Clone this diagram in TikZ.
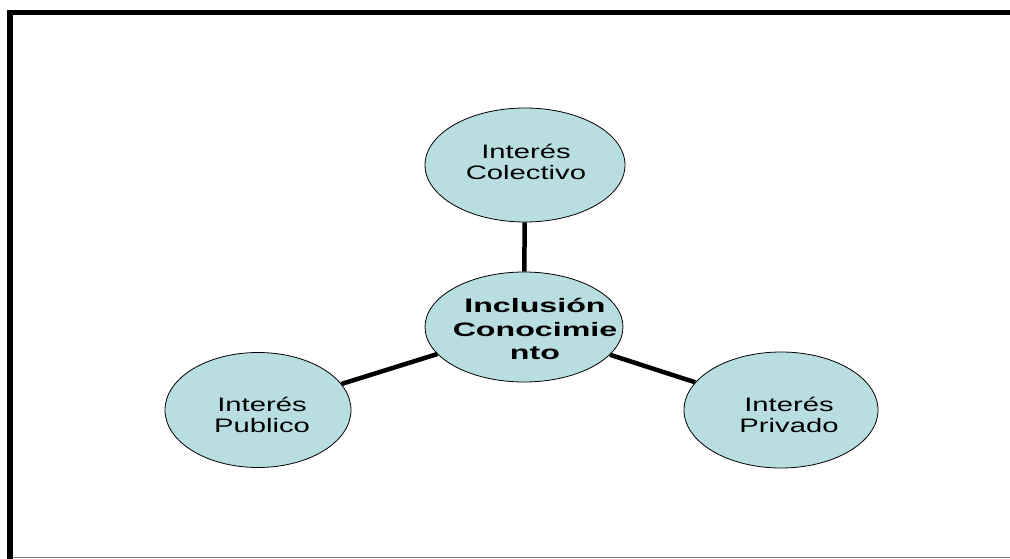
\documentclass[tikz,border=0pt]{standalone}
\usepackage{fontspec}
\setmainfont{Liberation Sans}
\newfontfamily\widefont{Liberation Sans}[FakeStretch=1.5]
\newfontfamily\wideboldfont{Liberation Sans}[FakeStretch=1.65]
\usetikzlibrary{shapes.geometric}
\definecolor{bubble}{RGB}{184,222,226}
\tikzset{
  bub/.style={ellipse, draw=black, line width=0.8pt, fill=bubble, inner sep=0pt},
  txt/.style={align=center, inner sep=0pt, font=\widefont\fontsize{19.5}{21.5}\selectfont},
  btxt/.style={align=center, inner sep=0pt, font=\wideboldfont\bfseries\fontsize{19.5}{23.5}\selectfont},
  link/.style={line width=4.5pt, draw=black}
}
\begin{document}
\begin{tikzpicture}[x=1pt,y=-1pt]
\useasboundingbox (0,0) rectangle (1010,559);
% frame
\fill[black] (7,10) rectangle (1010,15);
\fill[black] (7,10) rectangle (13,559);
\fill[gray] (13,556.5) rectangle (1010,558);
% nodes
\node[bub, minimum width=200pt, minimum height=114pt,
  label={[txt, shift={(1pt,3pt)}]center:{Interés\\Colectivo}}] (t) at (525,165) {};
\node[bub, minimum width=198pt, minimum height=110pt,
  label={[btxt, shift={(11pt,-2pt)}]center:{Inclusión\\Conocimie\\nto}}] (c) at (524,327) {};
\node[bub, minimum width=186pt, minimum height=115pt,
  label={[txt, shift={(4pt,-5pt)}]center:{Interés\\Publico}}] (l) at (258,410) {};
\node[bub, minimum width=194pt, minimum height=116pt,
  label={[txt, shift={(8pt,-5pt)}]center:{Interés\\Privado}}] (r) at (781,410) {};
% links
\draw[link] (c) -- (t);
\draw[link] (c) -- (l);
\draw[link] (c) -- (r);
\end{tikzpicture}
\end{document}
